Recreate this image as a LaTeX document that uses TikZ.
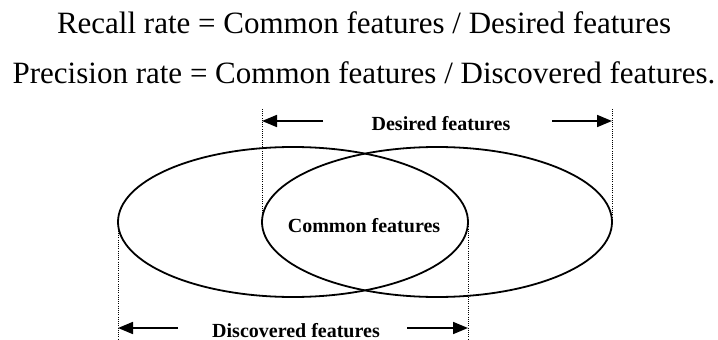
\documentclass[tikz,border=0pt]{standalone}
\usepackage{fontspec}
\setmainfont{Liberation Serif}
\usetikzlibrary{arrows.meta,shapes.geometric}
\begin{document}
\begin{tikzpicture}[x=1pt,y=-1pt,
  setshape/.style={draw, ellipse, line width=1.8pt, minimum width=350pt,
    minimum height=150pt, inner sep=0pt, outer sep=0pt},
  guide/.style={line width=0.9pt, dash pattern=on 1pt off 1.2pt},
  dimarrow/.style={line width=1.7pt, -{Triangle[length=15pt,width=12pt]}},
  titletext/.style={anchor=base, inner sep=0pt, font=\fontsize{31}{37}\selectfont},
  settext/.style={anchor=base, inner sep=0pt, font=\bfseries\fontsize{20}{24}\selectfont}]
\useasboundingbox (0,0) rectangle (718,340);

% formulas
\node[titletext] (recall) at (364,33) {Recall rate = Common features / Desired features};
\node[titletext] (precision) at (364,83) {Precision rate = Common features / Discovered features.};

% the two feature sets
\node[setshape] (disc) at (293,222) {};
\node[setshape] (des) at (437,222) {};

% set labels
\node[settext] (desiredlbl) at (441,130) {Desired features};
\node[settext] (commonlbl) at (364,232) {Common features};
\node[settext] (discoveredlbl) at (296,337) {Discovered features};

% extent guides
\coordinate (topline) at (0,108);
\coordinate (botline) at (0,340);
\draw[guide] (des.west) -- (des.west |- topline);
\draw[guide] (des.east) -- (des.east |- topline);
\draw[guide] (disc.west) -- (disc.west |- botline);
\draw[guide] (disc.east) -- (disc.east |- botline);

% dimension arrows
\coordinate (dsL) at (323,121);
\coordinate (dsR) at (552,121);
\coordinate (dcL) at (178,328);
\coordinate (dcR) at (407,328);
\draw[dimarrow] (dsL) -- (des.west |- dsL);
\draw[dimarrow] (dsR) -- (des.east |- dsR);
\draw[dimarrow] (dcL) -- (disc.west |- dcL);
\draw[dimarrow] (dcR) -- (disc.east |- dcR);
\end{tikzpicture}
\end{document}
